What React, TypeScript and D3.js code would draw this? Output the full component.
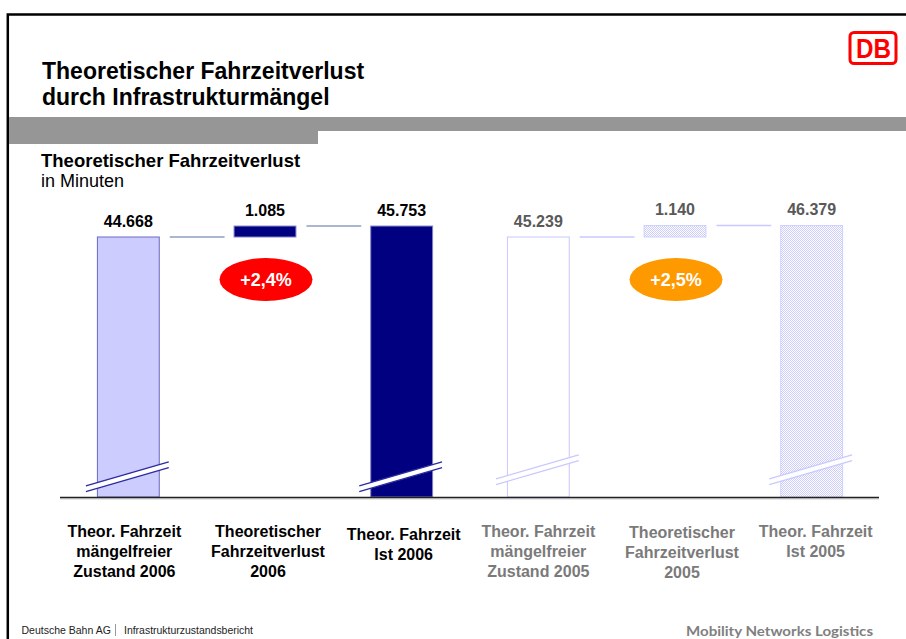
import React from "react";
import * as d3 from "d3";

// ---- data ----
const categories: string[][] = [
  ["Theor. Fahrzeit", "mängelfreier", "Zustand 2006"],
  ["Theoretischer", "Fahrzeitverlust", "2006"],
  ["Theor. Fahrzeit", "Ist 2006"],
  ["Theor. Fahrzeit", "mängelfreier", "Zustand 2005"],
  ["Theoretischer", "Fahrzeitverlust", "2005"],
  ["Theor. Fahrzeit", "Ist 2005"],
];
const values: number[] = [44.668, 1.085, 45.753, 45.239, 1.14, 46.379];
const valueLabels: string[] = ["44.668", "1.085", "45.753", "45.239", "1.140", "46.379"];
const barKinds: string[] = ["base", "delta", "total", "base", "delta", "total"];
const years: number[] = [2006, 2006, 2006, 2005, 2005, 2005];
const changeLabels: string[] = ["+2,4%", "+2,5%"];
const changeYears: number[] = [2006, 2005];

const FONT = "'Liberation Sans', Arial, Helvetica, sans-serif";

const W = 906;
const H = 639;
const axisY = 497;
const baseTop = 237;
const breakSpan = 25.75; // minutes hidden by the axis break

const x = d3
  .scaleBand<number>()
  .domain(values.map((_, i) => i))
  .range([60, 880])
  .paddingInner(0.54)
  .paddingOuter(0.27);

// one broken-axis scale per year group, anchored at the group's base value
const yFor = (year: number) => {
  const baseIdx = years.findIndex((y, i) => y === year && barKinds[i] === "base");
  const base = values[baseIdx];
  return d3.scaleLinear().domain([base - breakSpan, base]).range([axisY, baseTop]);
};

const style2006 = {
  baseFill: "#CCCCFF",
  baseStroke: "#6A6AC0",
  darkFill: "#000080",
  darkStroke: "#8080C8",
  connector: "#8CA0C0",
  breakLine: "#2B2BA0",
  valueColor: "#000000",
  labelColor: "#000000",
  breakY: 476.5,
};
const style2005 = {
  baseFill: "#FFFFFF",
  baseStroke: "#C8C8FF",
  darkFill: "url(#hatch)",
  darkStroke: "#D0D0FF",
  connector: "#C8C8FF",
  breakLine: "#C8C8FF",
  valueColor: "#595959",
  labelColor: "#7A7A7A",
  breakY: 469.5,
};
const styleOf = (yr: number) => (yr === 2006 ? style2006 : style2005);

const labelDx = [-4, 3, 2, 0, 7, 4];
const labelDy = [0, 0, 3, 0, 1, 0];

export default function App() {
  const bw = x.bandwidth();

  const marks: React.ReactNode[] = [];
  const connectors: React.ReactNode[] = [];
  const breaks: React.ReactNode[] = [];
  const valueTexts: React.ReactNode[] = [];

  values.forEach((v, i) => {
    const yr = years[i];
    const st = styleOf(yr);
    const y = yFor(yr);
    const x0 = x(i)!;
    const kind = barKinds[i];
    let top = 0;
    let bottom = axisY;
    if (kind === "base") {
      top = y(v);
    } else if (kind === "delta") {
      const base = values[i - 1];
      top = y(base + v);
      bottom = y(base);
    } else {
      top = y(v);
    }
    const fill = kind === "base" ? st.baseFill : st.darkFill;
    const stroke = kind === "base" ? st.baseStroke : st.darkStroke;
    marks.push(
      <rect
        key={"b" + i}
        x={x0 + 0.5}
        y={top}
        width={bw - 1}
        height={bottom - top}
        fill={fill}
        stroke={stroke}
        strokeWidth={1}
      />
    );
    valueTexts.push(
      <text
        key={"v" + i}
        x={x0 + bw / 2}
        y={top - 10}
        textAnchor="middle"
        fontFamily={FONT}
        fontWeight="bold"
        fontSize={16}
        fill={st.valueColor}
      >
        {valueLabels[i]}
      </text>
    );

    // connector from this bar's top to next bar (within group)
    if (i + 1 < values.length && years[i + 1] === yr) {
      const nextKind = barKinds[i + 1];
      const cy = kind === "base" ? y(v) : nextKind === "total" ? top : y(v);
      const xa = x0 + bw + 10;
      const xb = x(i + 1)! - 9;
      connectors.push(
        <line
          key={"c" + i}
          x1={xa}
          x2={xb}
          y1={cy}
          y2={cy}
          stroke={st.connector}
          strokeWidth={1.5}
        />
      );
    }

    // axis break marks on full-height bars
    if (kind !== "delta") {
      const cx = x0 + bw / 2;
      const cy = st.breakY;
      const slope = 0.29;
      const lx = x0 - 11;
      const rx = x0 + bw + 9;
      const yAt = (px: number, off: number) => cy - (px - cx) * slope + off;
      const g = 2.9;
      breaks.push(
        <g key={"br" + i}>
          <polygon
            points={`${lx},${yAt(lx, -g)} ${rx},${yAt(rx, -g)} ${rx},${yAt(rx, g)} ${lx},${yAt(lx, g)}`}
            fill="#FFFFFF"
          />
          <line x1={lx} y1={yAt(lx, -g)} x2={rx} y2={yAt(rx, -g)} stroke={st.breakLine} strokeWidth={1.3} />
          <line x1={lx} y1={yAt(lx, g)} x2={rx} y2={yAt(rx, g)} stroke={st.breakLine} strokeWidth={1.3} />
        </g>
      );
    }
  });

  const ellipses = changeLabels.map((lab, k) => {
    const yr = changeYears[k];
    const idx = years.findIndex((y, i) => y === yr && barKinds[i] === "delta");
    const y = yFor(yr);
    const cx = x(idx)! + bw / 2 + 1;
    const cy = y(values[idx - 1]) + 42.5;
    return (
      <g key={"e" + k}>
        <ellipse cx={cx} cy={cy} rx={46.5} ry={21.5} fill={yr === 2006 ? "#FF0000" : "#FF9900"} />
        <text
          x={cx}
          y={cy + 6.5}
          textAnchor="middle"
          fontFamily={FONT}
          fontWeight="bold"
          fontSize={18}
          fill="#FFFFFF"
        >
          {lab}
        </text>
      </g>
    );
  });

  const catLabels = categories.map((lines, i) => {
    const st = styleOf(years[i]);
    const cx = x(i)! + bw / 2 + labelDx[i];
    return (
      <text
        key={"cat" + i}
        textAnchor="middle"
        fontFamily={FONT}
        fontWeight="bold"
        fontSize={16}
        fill={st.labelColor}
      >
        {lines.map((ln, j) => (
          <tspan key={j} x={cx} y={537 + labelDy[i] + j * 20}>
            {ln}
          </tspan>
        ))}
      </text>
    );
  });

  return (
    <svg
      width={W}
      height={H}
      style={{ position: "absolute", left: 0, top: 0, background: "#FFFFFF" }}
    >
      <defs>
        <pattern id="hatch" width={2} height={2} patternUnits="userSpaceOnUse">
          <rect width={2} height={2} fill="#FFFFFF" />
          <rect width={1} height={1} fill="#CCCCFF" />
          <rect x={1} y={1} width={1} height={1} fill="#CCCCFF" />
        </pattern>
      </defs>
      <rect width={W} height={H} fill="#FFFFFF" />

      {/* frame */}
      <path d={`M7.8,${H} L7.8,14.5 L${W},14.5`} fill="none" stroke="#000000" strokeWidth={2.5} />

      {/* DB logo */}
      <rect x={850} y={32.5} width={46} height={31} rx={4} fill="#FFFFFF" stroke="#FF0000" strokeWidth={3} />
      <text
        x={873.5}
        y={57.5}
        textAnchor="middle"
        fontFamily={FONT}
        fontWeight="bold"
        fontSize={27}
        fill="#FF0000"
        textLength={35}
        lengthAdjust="spacingAndGlyphs"
      >
        DB
      </text>

      {/* title */}
      <text fontFamily={FONT} fontWeight="bold" fontSize={23} fill="#000000">
        <tspan x={42} y={78.5}>Theoretischer Fahrzeitverlust</tspan>
        <tspan x={42} y={104.5}>durch Infrastrukturmängel</tspan>
      </text>

      {/* gray band */}
      <rect x={9} y={117} width={W - 9} height={14} fill="#969696" />
      <rect x={9} y={131} width={309} height={13} fill="#969696" />

      {/* subtitle */}
      <text x={41} y={166.5} fontFamily={FONT} fontWeight="bold" fontSize={18.5} fill="#000000">
        Theoretischer Fahrzeitverlust
      </text>
      <text x={41} y={187} fontFamily={FONT} fontSize={18} fill="#000000">
        in Minuten
      </text>

      {connectors}
      {marks}
      {breaks}
      {valueTexts}
      {ellipses}

      {/* baseline */}
      <line x1={60} x2={879} y1={axisY + 0.5} y2={axisY + 0.5} stroke="#222222" strokeWidth={1.6} />
      <line x1={60} x2={879} y1={axisY + 1.8} y2={axisY + 1.8} stroke="#9A9A9A" strokeWidth={0.8} />

      {catLabels}

      {/* footer */}
      <text x={21.5} y={634} fontFamily={FONT} fontSize={10.5} fill="#222222">
        Deutsche Bahn AG
      </text>
      <line x1={115.5} x2={115.5} y1={624} y2={636} stroke="#9A9A9A" strokeWidth={1} />
      <text x={124} y={634} fontFamily={FONT} fontSize={10.5} fill="#222222" textLength={129} lengthAdjust="spacingAndGlyphs">
        Infrastrukturzustandsbericht
      </text>
      <text
        x={873}
        y={636}
        textAnchor="end"
        fontFamily="Lato, 'Open Sans', sans-serif"
        fontWeight="bold"
        fontSize={13.5}
        fill="#808080"
        textLength={187}
        lengthAdjust="spacingAndGlyphs"
      >
        Mobility Networks Logistics
      </text>
    </svg>
  );
}
